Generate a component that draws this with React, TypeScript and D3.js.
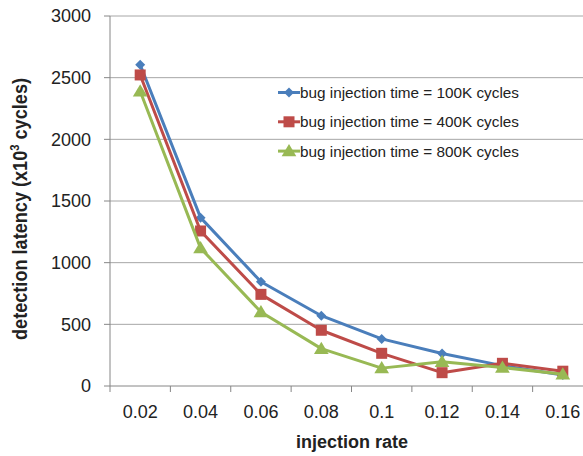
import React from "react";
import * as d3 from "d3";

const categories = ["0.02", "0.04", "0.06", "0.08", "0.1", "0.12", "0.14", "0.16"];
const series100K = [2605, 1365, 845, 570, 382, 263, 165, 90];
const series400K = [2522, 1257, 743, 452, 265, 108, 184, 120];
const series800K = [2390, 1118, 600, 303, 145, 197, 150, 95];
const yTicks = [0, 500, 1000, 1500, 2000, 2500, 3000];
const seriesNames = [
  "bug injection time = 100K cycles",
  "bug injection time = 400K cycles",
  "bug injection time = 800K cycles",
];

const W = 583;
const H = 456;
const left = 110;
const right = 593;
const top = 16;
const bottom = 386;

export default function App() {
  const x = d3.scaleBand<string>().domain(categories).range([left, right]);
  const y = d3.scaleLinear().domain([0, 3000]).range([bottom, top]);
  const cx = (c: string) => (x(c) as number) + x.bandwidth() / 2;

  const series = [
    { name: seriesNames[0], values: series100K, color: "#4A7EBB", marker: "diamond" },
    { name: seriesNames[1], values: series400K, color: "#BE4B48", marker: "square" },
    { name: seriesNames[2], values: series800K, color: "#98B954", marker: "triangle" },
  ];

  const line = d3
    .line<number>()
    .x((_, i) => cx(categories[i]))
    .y((d) => y(d));

  const marker = (type: string, px: number, py: number, color: string, key: string) => {
    if (type === "diamond") {
      const s = 5;
      return (
        <path key={key} d={`M${px},${py - s}L${px + s},${py}L${px},${py + s}L${px - s},${py}Z`} fill={color} />
      );
    }
    if (type === "square") {
      const s = 5.5;
      return <rect key={key} x={px - s} y={py - s} width={2 * s} height={2 * s} fill={color} />;
    }
    const s = 7;
    return (
      <path key={key} d={`M${px},${py - s}L${px + s * 1.05},${py + s * 0.75}L${px - s * 1.05},${py + s * 0.75}Z`} fill={color} />
    );
  };

  const font = "'Liberation Sans', Arial, sans-serif";
  const boundaries = [...categories.map((c) => x(c) as number), right];

  return (
    <svg width={W} height={H} style={{ position: "absolute", left: 0, top: 0, background: "#fff" }}>
      {yTicks.map((t) => (
        <g key={t}>
          {t > 0 && <line x1={left} x2={right} y1={y(t)} y2={y(t)} stroke="#A6A6A6" strokeWidth={1} />}
          <line x1={left - 6} x2={left} y1={y(t)} y2={y(t)} stroke="#868686" strokeWidth={1} />
          <text x={91} y={y(t)} dy="0.36em" textAnchor="end" fontFamily={font} fontSize={18} fill="#222">
            {t}
          </text>
        </g>
      ))}
      <line x1={left} x2={left} y1={top} y2={bottom} stroke="#868686" strokeWidth={1} />
      <line x1={left} x2={right} y1={bottom} y2={bottom} stroke="#868686" strokeWidth={1} />
      {boundaries.map((b, i) => (
        <line key={i} x1={b} x2={b} y1={bottom} y2={bottom + 6} stroke="#868686" strokeWidth={1} />
      ))}
      {categories.map((c) => (
        <text key={c} x={cx(c)} y={418} textAnchor="middle" fontFamily={font} fontSize={18} fill="#222">
          {c}
        </text>
      ))}
      <text x={352} y={448} textAnchor="middle" fontFamily={font} fontSize={18} fontWeight="bold" fill="#222">
        injection rate
      </text>
      <text
        transform={`translate(27,209) rotate(-90)`}
        textAnchor="middle"
        fontFamily={font}
        fontSize={21}
        fontWeight="bold"
        fill="#222"
        textLength={262}
        lengthAdjust="spacingAndGlyphs"
      >
        detection latency (x10<tspan dy="-8" fontSize={13}>3</tspan>
        <tspan dy="8"> cycles)</tspan>
      </text>
      {series.map((s, si) => (
        <g key={si}>
          <path d={line(s.values) as string} fill="none" stroke={s.color} strokeWidth={3} strokeLinejoin="round" />
          {s.values.map((v, i) => marker(s.marker, cx(categories[i]), y(v), s.color, `${si}-${i}`))}
        </g>
      ))}
      {series.map((s, si) => {
        const ly = 92.5 + si * 29.3;
        return (
          <g key={"l" + si}>
            <line x1={278} x2={300} y1={ly} y2={ly} stroke={s.color} strokeWidth={3} />
            {marker(s.marker, 289, ly, s.color, "lm" + si)}
            <text x={300} y={ly} dy="0.36em" fontFamily={font} fontSize={15.3} fill="#222">
              {s.name}
            </text>
          </g>
        );
      })}
    </svg>
  );
}
